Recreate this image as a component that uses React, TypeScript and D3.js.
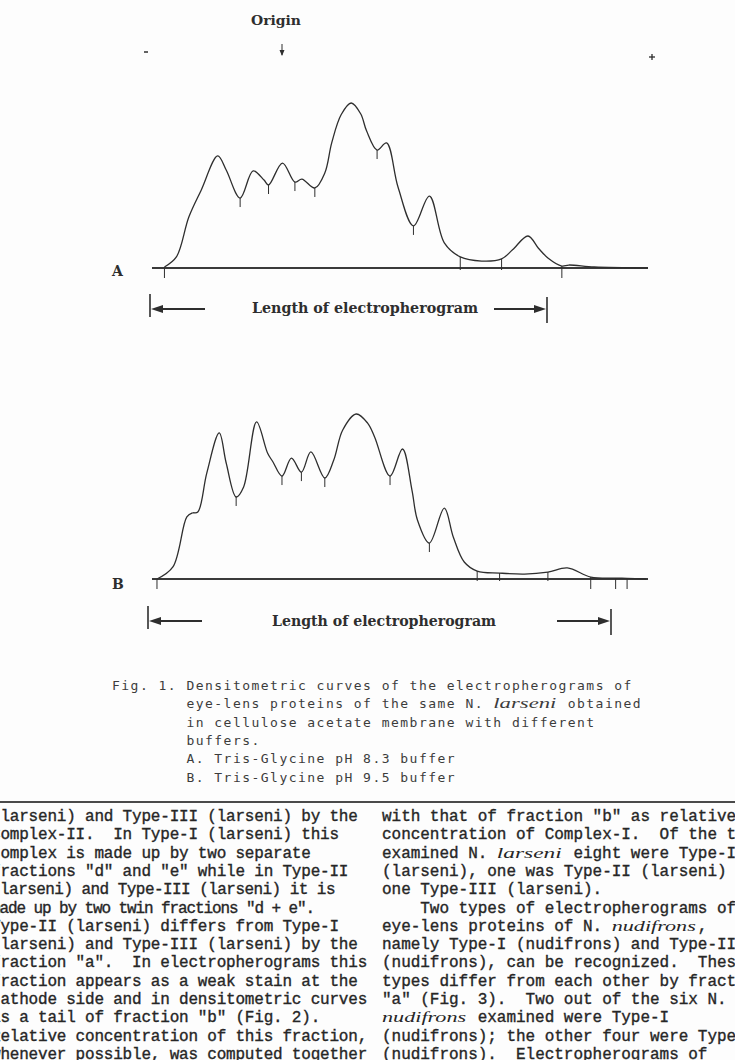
import React from "react";
import * as d3 from "d3";

// ---------- DATA ----------
// Densitometric curve A (Tris-Glycine pH 8.3): distance (% of strip) vs relative density
const distA = [2.9, 5.3, 7.8, 10.3, 13.6, 15.3, 18.1, 20.7, 22.9, 23.8, 26.6, 29.1, 30.5, 33.1, 35.1, 36.5, 38.4, 40.4, 42.3, 43.5, 45.6, 47.5, 49.8, 52.9, 56.1, 59.1, 62.3, 66.6, 70.6, 72.8, 75.9, 78.0, 79.9, 82.7, 84.1, 89.2, 100];
const densA = [0.6, 6.7, 30.9, 47.3, 67.9, 59.4, 42.4, 58.8, 53.3, 50.3, 63.6, 52.1, 53.9, 48.5, 57.6, 76.0, 93.0, 100, 93.5, 83.0, 71.5, 75.8, 49.1, 25.5, 43.6, 15.2, 6.7, 4.2, 5.5, 11.0, 19.4, 12.0, 6.1, 1.2, 1.8, 0.6, 0];
const valleysA = [18.1, 23.8, 29.1, 33.1, 45.6, 52.9];
const dropsA = [62.3, 70.6];
const belowA = [2.9, 82.7];

// Densitometric curve B (Tris-Glycine pH 9.5)
const distB = [1.4, 4.6, 7.4, 8.5, 9.6, 11.4, 13.9, 15.3, 17.3, 18.8, 21.4, 23.6, 24.7, 26.5, 28.4, 30.4, 32.3, 35.1, 36.9, 38.7, 41.4, 43.7, 45.1, 48.2, 50.7, 52.6, 53.7, 56.1, 59.1, 60.9, 63.1, 65.7, 70.2, 75.2, 79.9, 83.8, 88.5, 93.5, 95.8, 99.6];
const densB = [0, 7.3, 37.6, 40, 40.6, 64.2, 88.5, 70.3, 49.7, 55.8, 95.2, 76.4, 70.9, 62.4, 73.3, 64.8, 77, 61.2, 72.1, 90.3, 100, 94.5, 86.1, 62.4, 78.8, 53.9, 35.8, 21.8, 43, 25.5, 10.3, 4.8, 3.6, 3.0, 4.2, 6.7, 1.2, 0.5, 0.4, 0];
const valleysB = [17.3, 26.5, 30.4, 35.1, 48.2, 56.1];
const dropsB = [65.7, 70.2, 79.9];
const belowB = [1.4, 88.5, 93.5, 95.8];

const captionLines = [
  "Fig. 1. Densitometric curves of the electropherograms of",
  "        eye-lens proteins of the same N. _larseni_ obtained",
  "        in cellulose acetate membrane with different",
  "        buffers.",
  "        A. Tris-Glycine pH 8.3 buffer",
  "        B. Tris-Glycine pH 9.5 buffer",
];

const leftColumn = [
  "(larseni) and Type-III (larseni) by the",
  "Complex-II.  In Type-I (larseni) this",
  "complex is made up by two separate",
  "fractions \"d\" and \"e\" while in Type-II",
  "(larseni) and Type-III (larseni) it is",
  "made up by two twin fractions \"d + e\".",
  "Type-II (larseni) differs from Type-I",
  "(larseni) and Type-III (larseni) by the",
  "fraction \"a\".  In electropherograms this",
  "fraction appears as a weak stain at the",
  "cathode side and in densitometric curves",
  "as a tail of fraction \"b\" (Fig. 2).",
  "Relative concentration of this fraction,",
  "whenever possible, was computed together",
];

const rightColumn = [
  "with that of fraction \"b\" as relative",
  "concentration of Complex-I.  Of the ten",
  "examined N. _larseni_ eight were Type-I",
  "(larseni), one was Type-II (larseni)",
  "one Type-III (larseni).",
  "    Two types of electropherograms of",
  "eye-lens proteins of N. _nudifrons_,",
  "namely Type-I (nudifrons) and Type-II",
  "(nudifrons), can be recognized.  These",
  "types differ from each other by fraction",
  "\"a\" (Fig. 3).  Two out of the six N.",
  "_nudifrons_ examined were Type-I",
  "(nudifrons); the other four were Type-II",
  "(nudifrons).  Electropherograms of",
];

// ---------- LAYOUT ----------
const W = 735;
const H = 1060;
const INK = "#2e2e2e";

const xScale = d3.scaleLinear().domain([0, 100]).range([150, 648]);
const PEAK_PX = 165;

type Panel = {
  label: string;
  base: number;
  dist: number[];
  dens: number[];
  valleys: number[];
  drops: number[];
  below: number[];
  labelY: number;
  arrowY: number;
  leftBar: number;
  leftArrowEnd: number;
  textX: number;
  textLen: number;
  textY: number;
  rightArrowStart: number;
  rightBar: number;
};

const panels: Panel[] = [
  {
    label: "A", base: 268, dist: distA, dens: densA, valleys: valleysA, drops: dropsA, below: belowA,
    labelY: 276, arrowY: 309, leftBar: 150, leftArrowEnd: 205, textX: 252, textLen: 226, textY: 313,
    rightArrowStart: 494, rightBar: 547,
  },
  {
    label: "B", base: 579, dist: distB, dens: densB, valleys: valleysB, drops: dropsB, below: belowB,
    labelY: 589, arrowY: 621, leftBar: 148, leftArrowEnd: 202, textX: 272, textLen: 224, textY: 626,
    rightArrowStart: 557, rightBar: 611,
  },
];

function CurvePanel({ p }: { p: Panel }) {
  const y = d3.scaleLinear().domain([0, 100]).range([p.base, p.base - PEAK_PX]);
  const pts: [number, number][] = p.dist.map((d, i) => [d, p.dens[i]]);
  const line = d3
    .line<[number, number]>()
    .x((d) => xScale(d[0]))
    .y((d) => y(d[1]))
    .curve(d3.curveCatmullRom.alpha(0.5));
  const valAt = (d: number) => {
    const i = p.dist.indexOf(d);
    return i >= 0 ? p.dens[i] : 0;
  };
  const ah = 4; // arrow head half height
  return (
    <g>
      <text x={112} y={p.labelY} fontFamily="DejaVu Serif" fontWeight="bold" fontSize={14} fill={INK}>
        {p.label}
      </text>
      {/* baseline */}
      <line x1={xScale(0.4)} x2={xScale(100)} y1={p.base} y2={p.base} stroke="#3a3a3a" strokeWidth={2} />
      {/* curve */}
      <path d={line(pts) || ""} fill="none" stroke={INK} strokeWidth={1.3} strokeLinejoin="round" />
      {/* valley ticks */}
      {p.valleys.map((d) => (
        <line key={"v" + d} x1={xScale(d)} x2={xScale(d)} y1={y(valAt(d))} y2={y(valAt(d)) + 9} stroke={INK} strokeWidth={1} />
      ))}
      {p.drops.map((d) => (
        <line key={"d" + d} x1={xScale(d)} x2={xScale(d)} y1={y(valAt(d))} y2={p.base + 2} stroke={INK} strokeWidth={1} />
      ))}
      {p.below.map((d) => (
        <line key={"b" + d} x1={xScale(d)} x2={xScale(d)} y1={Math.min(y(valAt(d)), p.base)} y2={p.base + 10} stroke={INK} strokeWidth={1} />
      ))}
      {/* length of electropherogram */}
      <line x1={p.leftBar} x2={p.leftBar} y1={p.arrowY - 15} y2={p.arrowY + 8} stroke={INK} strokeWidth={1.6} />
      <line x1={p.leftBar + 8} x2={p.leftArrowEnd} y1={p.arrowY} y2={p.arrowY} stroke={INK} strokeWidth={2} />
      <path d={`M${p.leftBar + 1},${p.arrowY} L${p.leftBar + 13},${p.arrowY - ah} L${p.leftBar + 13},${p.arrowY + ah} Z`} fill={INK} />
      <text x={p.textX} y={p.textY} fontFamily="DejaVu Serif" fontWeight="bold" fontSize={14} fill={INK}
        textLength={p.textLen} lengthAdjust="spacingAndGlyphs">
        Length of electropherogram
      </text>
      <line x1={p.rightArrowStart} x2={p.rightBar - 8} y1={p.arrowY} y2={p.arrowY} stroke={INK} strokeWidth={2} />
      <path d={`M${p.rightBar - 1},${p.arrowY} L${p.rightBar - 13},${p.arrowY - ah} L${p.rightBar - 13},${p.arrowY + ah} Z`} fill={INK} />
      <line x1={p.rightBar} x2={p.rightBar} y1={p.arrowY - 12} y2={p.arrowY + 14} stroke={INK} strokeWidth={1.6} />
    </g>
  );
}

type MonoOpts = {
  x0: number;
  y: number;
  pitch: number;
  family: string;
  size: number;
  advance: number;
  fill: string;
  italicFamily: string;
  italicSize: number;
  weightStroke: number;
};

function MonoLine({ text, o }: { text: string; o: MonoOpts }) {
  const parts = text.split("_");
  let col = 0;
  const out: React.ReactNode[] = [];
  parts.forEach((seg, i) => {
    const italic = i % 2 === 1;
    const lead = seg.length - seg.replace(/^ +/, "").length;
    const body = seg.slice(lead);
    const c = col + lead;
    if (body.length > 0) {
      if (italic) {
        out.push(
          <text key={i} x={o.x0 + c * o.pitch} y={o.y} fontFamily={o.italicFamily} fontStyle="italic"
            fontSize={o.italicSize} fill={o.fill} textLength={body.length * o.pitch - 2} lengthAdjust="spacingAndGlyphs">
            {body}
          </text>
        );
      } else {
        out.push(
          <text key={i} x={o.x0 + c * o.pitch} y={o.y} fontFamily={o.family} fontSize={o.size} fill={o.fill}
            stroke={o.weightStroke > 0 ? o.fill : "none"} strokeWidth={o.weightStroke}
            letterSpacing={o.pitch - o.advance} xmlSpace="preserve" style={{ whiteSpace: "pre" }}>
            {body}
          </text>
        );
      }
    }
    col += seg.length;
  });
  return <g>{out}</g>;
}

export default function App() {
  const capOpts = (i: number): MonoOpts => ({
    x0: 112, y: 690 + i * 18.3, pitch: 9.3, family: "DejaVu Sans Mono", size: 13, advance: 13 * 0.602,
    fill: "#3c3c3c", italicFamily: "Liberation Serif", italicSize: 14, weightStroke: 0,
  });
  const leftPitch = (i: number) => (i === 4 ? 9.05 : i === 5 ? 8.5 : 9.4);
  const bodyOpts = (x0: number, i: number, pitch: number): MonoOpts => ({
    x0, y: 821 + i * 18.3, pitch, family: "Liberation Mono", size: 16, advance: 9.6,
    fill: "#262626", italicFamily: "Liberation Serif", italicSize: 15, weightStroke: 0.35,
  });
  return (
    <svg width={W} height={H} viewBox={`0 0 ${W} ${H}`}
      style={{ position: "absolute", left: 0, top: 0, background: "#fff" }}>
      <rect x={0} y={0} width={W} height={H} fill="#fdfdfd" />
      {/* header */}
      <text x={276} y={25} textAnchor="middle" fontFamily="DejaVu Serif" fontWeight="bold" fontSize={13} fill={INK}
        textLength={50} lengthAdjust="spacingAndGlyphs">
        Origin
      </text>
      <line x1={282} x2={282} y1={44} y2={55} stroke={INK} strokeWidth={1} />
      <path d="M279.5,50 L282,56 L284.5,50 Z" fill={INK} />
      <line x1={144} x2={148} y1={52} y2={52} stroke={INK} strokeWidth={1.5} />
      <line x1={649} x2={655} y1={57} y2={57} stroke={INK} strokeWidth={1.3} />
      <line x1={652} x2={652} y1={54} y2={60} stroke={INK} strokeWidth={1.3} />

      {panels.map((p) => (
        <CurvePanel key={p.label} p={p} />
      ))}

      {/* caption */}
      {captionLines.map((t, i) => (
        <MonoLine key={"c" + i} text={t} o={capOpts(i)} />
      ))}

      {/* separator */}
      <line x1={0} x2={W} y1={802} y2={802} stroke="#4a4a4a" strokeWidth={2} />

      {/* body text */}
      {leftColumn.map((t, i) => (
        <MonoLine key={"l" + i} text={t} o={bodyOpts(-9, i, leftPitch(i))} />
      ))}
      {rightColumn.map((t, i) => (
        <MonoLine key={"r" + i} text={t} o={bodyOpts(382, i, 9.57)} />
      ))}
    </svg>
  );
}
